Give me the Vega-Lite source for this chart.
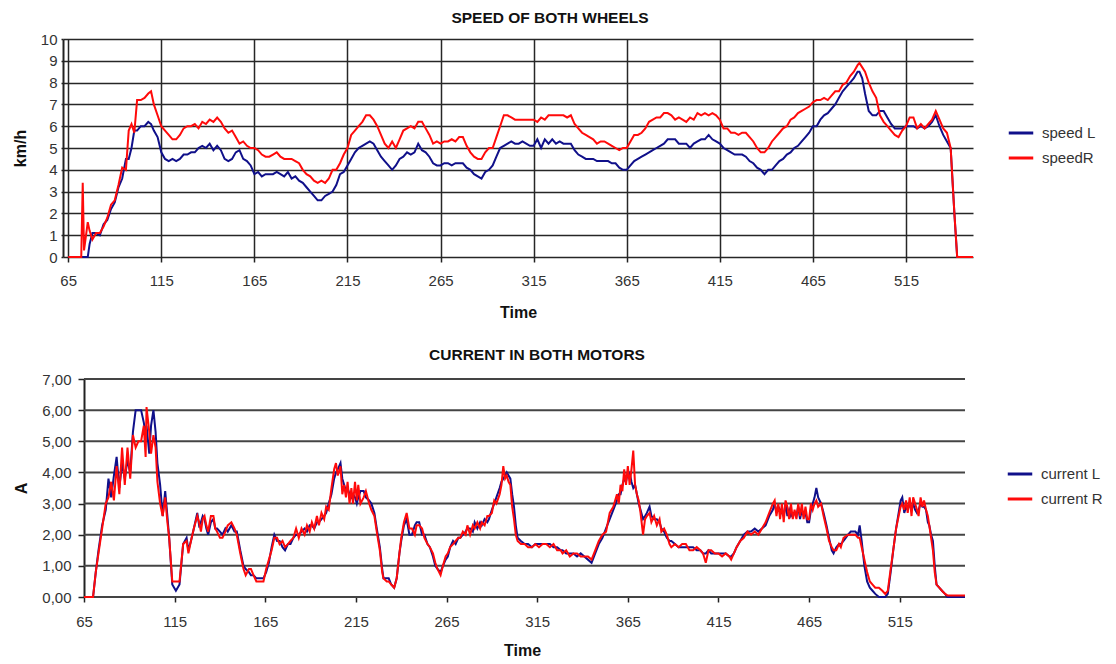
{
  "$schema": "https://vega.github.io/schema/vega-lite/v6.json",
  "padding": {"left": 12, "top": 10, "right": 0, "bottom": 0},
  "autosize": {"type": "pad"},
  "background": "white",
  "spacing": 27,
  "resolve": {"scale": {"color": "independent"}, "legend": {"color": "independent"}},
  "config": {
    "font": "Liberation Sans",
    "view": {"stroke": null},
    "axis": {"labelFont": "Liberation Sans", "labelFontSize": 15, "labelColor": "#333333", "titleFont": "Liberation Sans", "titleFontSize": 16, "titleFontWeight": "bold", "titleColor": "#111111", "domainColor": "#222222", "tickColor": "#222222", "gridColor": "#262626", "gridOpacity": 1},
    "legend": {"labelFont": "Liberation Sans", "labelFontSize": 15, "labelColor": "#333333", "symbolType": "stroke", "symbolStrokeWidth": 3, "symbolSize": 600, "rowPadding": 3, "labelOffset": 7},
    "title": {"font": "Liberation Sans", "fontSize": 15.5, "fontWeight": "bold", "color": "#111111"}
  },
  "datasets": {
    "speed": [
      {"t":65,"L":0,"R":0},{"t":70,"L":0,"R":0},{"t":72,"L":0,"R":0},{"t":72.8,"L":0,"R":3.4},{"t":73.5,"L":0,"R":0.3},{"t":75.5,"L":0,"R":1.6},{"t":76.5,"L":0.6,"R":1.2},{"t":78,"L":1.1,"R":0.8},{"t":80,"L":1.1,"R":1.1},{"t":82,"L":1.0,"R":1.1},{"t":84,"L":1.5,"R":1.4},{"t":86,"L":1.7,"R":1.8},{"t":88,"L":2.2,"R":2.4},{"t":90,"L":2.5,"R":2.6},{"t":92,"L":3.2,"R":3.3},{"t":94,"L":3.6,"R":4.1},{"t":96,"L":4.5,"R":4.0},{"t":97.5,"L":4.5,"R":5.8},{"t":99,"L":5.0,"R":6.1},{"t":100.5,"L":5.8,"R":5.7},{"t":102,"L":5.8,"R":7.2},{"t":104,"L":6.0,"R":7.2},{"t":106,"L":6.0,"R":7.3},{"t":108,"L":6.2,"R":7.5},{"t":109.5,"L":6.1,"R":7.6},{"t":111,"L":5.8,"R":7.0},{"t":113,"L":5.5,"R":6.5},{"t":115,"L":4.8,"R":6.0},{"t":117,"L":4.5,"R":5.8},{"t":119,"L":4.4,"R":5.6},{"t":121,"L":4.5,"R":5.4},{"t":123,"L":4.4,"R":5.4},{"t":125,"L":4.5,"R":5.6},{"t":127,"L":4.7,"R":5.9},{"t":129,"L":4.7,"R":6.0},{"t":131,"L":4.8,"R":6.0},{"t":133,"L":4.8,"R":6.1},{"t":135,"L":5.0,"R":5.9},{"t":137,"L":5.1,"R":6.2},{"t":139,"L":5.0,"R":6.1},{"t":141,"L":5.2,"R":6.3},{"t":143,"L":4.9,"R":6.2},{"t":145,"L":5.1,"R":6.4},{"t":147,"L":4.9,"R":6.2},{"t":149,"L":4.5,"R":5.9},{"t":151,"L":4.4,"R":5.7},{"t":153,"L":4.5,"R":5.8},{"t":155,"L":4.8,"R":5.5},{"t":157,"L":4.9,"R":5.2},{"t":159,"L":4.5,"R":5.3},{"t":161,"L":4.4,"R":5.1},{"t":163,"L":4.2,"R":5.0},{"t":165,"L":3.8,"R":5.0},{"t":167,"L":3.9,"R":4.9},{"t":169,"L":3.7,"R":4.7},{"t":171,"L":3.8,"R":4.6},{"t":173,"L":3.8,"R":4.6},{"t":175,"L":3.8,"R":4.7},{"t":177,"L":3.9,"R":4.8},{"t":179,"L":3.8,"R":4.6},{"t":181,"L":3.7,"R":4.5},{"t":183,"L":3.9,"R":4.5},{"t":185,"L":3.6,"R":4.5},{"t":187,"L":3.7,"R":4.4},{"t":189,"L":3.5,"R":4.3},{"t":191,"L":3.4,"R":4.0},{"t":193,"L":3.2,"R":3.8},{"t":195,"L":3.0,"R":3.7},{"t":197,"L":2.8,"R":3.5},{"t":199,"L":2.6,"R":3.4},{"t":201,"L":2.6,"R":3.5},{"t":203,"L":2.8,"R":3.4},{"t":205,"L":2.9,"R":3.6},{"t":207,"L":3.0,"R":4.0},{"t":209,"L":3.3,"R":4.0},{"t":211,"L":3.8,"R":4.3},{"t":213,"L":3.9,"R":4.7},{"t":215,"L":4.2,"R":5.0},{"t":217,"L":4.5,"R":5.6},{"t":219,"L":4.8,"R":5.8},{"t":221,"L":5.0,"R":6.0},{"t":223,"L":5.1,"R":6.2},{"t":225,"L":5.2,"R":6.5},{"t":227,"L":5.3,"R":6.5},{"t":229,"L":5.2,"R":6.3},{"t":231,"L":4.9,"R":6.0},{"t":233,"L":4.6,"R":5.6},{"t":235,"L":4.4,"R":5.2},{"t":237,"L":4.2,"R":5.0},{"t":239,"L":4.0,"R":5.3},{"t":241,"L":4.2,"R":5.0},{"t":243,"L":4.5,"R":5.4},{"t":245,"L":4.6,"R":5.8},{"t":247,"L":4.8,"R":5.9},{"t":249,"L":4.7,"R":6.0},{"t":251,"L":4.8,"R":5.9},{"t":253,"L":5.2,"R":6.2},{"t":255,"L":4.9,"R":6.2},{"t":257,"L":4.8,"R":5.9},{"t":259,"L":4.6,"R":5.6},{"t":261,"L":4.3,"R":5.2},{"t":263,"L":4.2,"R":5.3},{"t":265,"L":4.2,"R":5.2},{"t":267,"L":4.3,"R":5.3},{"t":269,"L":4.3,"R":5.3},{"t":271,"L":4.2,"R":5.4},{"t":273,"L":4.3,"R":5.3},{"t":275,"L":4.3,"R":5.5},{"t":277,"L":4.3,"R":5.5},{"t":279,"L":4.1,"R":5.1},{"t":281,"L":4.0,"R":4.8},{"t":283,"L":3.8,"R":4.6},{"t":285,"L":3.7,"R":4.5},{"t":287,"L":3.6,"R":4.5},{"t":289,"L":3.9,"R":4.8},{"t":291,"L":4.0,"R":5.0},{"t":293,"L":4.2,"R":5.0},{"t":295,"L":4.6,"R":5.5},{"t":297,"L":5.0,"R":6.0},{"t":299,"L":5.1,"R":6.5},{"t":301,"L":5.2,"R":6.5},{"t":303,"L":5.3,"R":6.4},{"t":305,"L":5.2,"R":6.3},{"t":307,"L":5.2,"R":6.3},{"t":309,"L":5.3,"R":6.3},{"t":311,"L":5.2,"R":6.3},{"t":313,"L":5.1,"R":6.3},{"t":315,"L":5.1,"R":6.3},{"t":317,"L":5.4,"R":6.2},{"t":319,"L":5.0,"R":6.4},{"t":321,"L":5.4,"R":6.3},{"t":323,"L":5.2,"R":6.5},{"t":325,"L":5.4,"R":6.5},{"t":327,"L":5.2,"R":6.5},{"t":329,"L":5.3,"R":6.5},{"t":331,"L":5.2,"R":6.5},{"t":333,"L":5.2,"R":6.4},{"t":335,"L":5.2,"R":6.5},{"t":337,"L":4.9,"R":6.1},{"t":339,"L":4.7,"R":5.9},{"t":341,"L":4.6,"R":5.7},{"t":343,"L":4.5,"R":5.6},{"t":345,"L":4.5,"R":5.5},{"t":347,"L":4.5,"R":5.4},{"t":349,"L":4.4,"R":5.2},{"t":351,"L":4.4,"R":5.3},{"t":353,"L":4.4,"R":5.3},{"t":355,"L":4.4,"R":5.2},{"t":357,"L":4.3,"R":5.1},{"t":359,"L":4.3,"R":5.0},{"t":361,"L":4.1,"R":4.9},{"t":363,"L":4.0,"R":5.0},{"t":365,"L":4.0,"R":5.0},{"t":367,"L":4.2,"R":5.3},{"t":369,"L":4.4,"R":5.6},{"t":371,"L":4.5,"R":5.6},{"t":373,"L":4.6,"R":5.7},{"t":375,"L":4.7,"R":5.9},{"t":377,"L":4.8,"R":6.2},{"t":379,"L":4.9,"R":6.3},{"t":381,"L":5.0,"R":6.4},{"t":383,"L":5.1,"R":6.4},{"t":385,"L":5.2,"R":6.6},{"t":387,"L":5.4,"R":6.6},{"t":389,"L":5.4,"R":6.5},{"t":391,"L":5.4,"R":6.3},{"t":393,"L":5.2,"R":6.4},{"t":395,"L":5.2,"R":6.3},{"t":397,"L":5.2,"R":6.2},{"t":399,"L":5.0,"R":6.4},{"t":401,"L":5.2,"R":6.3},{"t":403,"L":5.3,"R":6.6},{"t":405,"L":5.4,"R":6.5},{"t":407,"L":5.4,"R":6.6},{"t":409,"L":5.6,"R":6.5},{"t":411,"L":5.4,"R":6.6},{"t":413,"L":5.3,"R":6.5},{"t":415,"L":5.2,"R":6.3},{"t":417,"L":5.0,"R":5.9},{"t":419,"L":4.9,"R":5.9},{"t":421,"L":4.8,"R":5.7},{"t":423,"L":4.7,"R":5.7},{"t":425,"L":4.7,"R":5.6},{"t":427,"L":4.7,"R":5.7},{"t":429,"L":4.6,"R":5.7},{"t":431,"L":4.4,"R":5.5},{"t":433,"L":4.3,"R":5.3},{"t":435,"L":4.1,"R":5.0},{"t":437,"L":4.0,"R":4.8},{"t":439,"L":3.8,"R":4.8},{"t":441,"L":4.0,"R":5.0},{"t":443,"L":4.0,"R":5.3},{"t":445,"L":4.2,"R":5.5},{"t":447,"L":4.4,"R":5.7},{"t":449,"L":4.5,"R":5.9},{"t":451,"L":4.7,"R":6.0},{"t":453,"L":4.8,"R":6.3},{"t":455,"L":5.0,"R":6.4},{"t":457,"L":5.1,"R":6.6},{"t":459,"L":5.3,"R":6.7},{"t":461,"L":5.5,"R":6.8},{"t":463,"L":5.7,"R":6.9},{"t":465,"L":6.0,"R":7.1},{"t":467,"L":6.0,"R":7.2},{"t":469,"L":6.3,"R":7.2},{"t":471,"L":6.5,"R":7.3},{"t":473,"L":6.6,"R":7.2},{"t":475,"L":6.8,"R":7.4},{"t":477,"L":7.0,"R":7.6},{"t":479,"L":7.3,"R":7.6},{"t":481,"L":7.6,"R":7.9},{"t":483,"L":7.8,"R":8.0},{"t":485,"L":8.0,"R":8.3},{"t":487,"L":8.2,"R":8.5},{"t":489,"L":8.5,"R":8.8},{"t":490,"L":8.5,"R":8.9},{"t":491.5,"L":8.2,"R":8.7},{"t":493,"L":7.5,"R":8.5},{"t":495,"L":6.7,"R":8.0},{"t":497,"L":6.5,"R":7.6},{"t":499,"L":6.5,"R":7.3},{"t":501,"L":6.7,"R":6.5},{"t":503,"L":6.7,"R":6.2},{"t":505,"L":6.4,"R":6.0},{"t":507,"L":6.1,"R":5.8},{"t":509,"L":5.9,"R":5.6},{"t":511,"L":5.9,"R":5.5},{"t":513,"L":5.9,"R":5.8},{"t":515,"L":6.0,"R":6.0},{"t":517,"L":6.0,"R":6.4},{"t":519,"L":6.0,"R":6.4},{"t":521,"L":5.9,"R":5.9},{"t":523,"L":6.0,"R":6.1},{"t":525,"L":5.9,"R":5.9},{"t":527,"L":6.0,"R":6.1},{"t":529,"L":6.2,"R":6.3},{"t":531,"L":6.5,"R":6.7},{"t":533,"L":6.0,"R":6.3},{"t":535,"L":5.6,"R":5.9},{"t":537,"L":5.3,"R":5.7},{"t":539,"L":5.0,"R":5.0},{"t":541,"L":2.0,"R":2.0},{"t":542.5,"L":0,"R":0},{"t":551,"L":0,"R":0}
    ],
    "current": [
      {"t":65,"L":0,"R":0},{"t":70,"L":0,"R":0},{"t":71.5,"L":0.8,"R":0.8},{"t":73,"L":1.5,"R":1.4},{"t":75,"L":2.3,"R":2.2},{"t":77,"L":2.8,"R":3.0},{"t":78.5,"L":3.8,"R":3.2},{"t":80,"L":3.2,"R":3.7},{"t":81.5,"L":3.9,"R":3.1},{"t":83,"L":4.5,"R":4.2},{"t":84.5,"L":3.5,"R":3.3},{"t":86,"L":4.3,"R":4.8},{"t":87.5,"L":3.8,"R":3.6},{"t":89,"L":4.4,"R":4.8},{"t":90.5,"L":4.0,"R":3.8},{"t":92,"L":5.3,"R":5.2},{"t":93.5,"L":6.0,"R":4.8},{"t":95,"L":6.0,"R":5.0},{"t":96.5,"L":6.0,"R":5.0},{"t":98,"L":5.6,"R":5.5},{"t":99,"L":5.2,"R":4.5},{"t":99.5,"L":5.5,"R":6.1},{"t":101,"L":4.6,"R":5.3},{"t":102,"L":5.5,"R":4.6},{"t":103.3,"L":6.0,"R":5.2},{"t":104.5,"L":5.3,"R":4.8},{"t":105.5,"L":4.3,"R":3.7},{"t":107,"L":3.6,"R":3.0},{"t":108.4,"L":2.6,"R":2.6},{"t":109.8,"L":3.4,"R":3.2},{"t":111,"L":2.6,"R":2.4},{"t":112,"L":1.9,"R":1.9},{"t":113.7,"L":0.4,"R":0.5},{"t":115.7,"L":0.2,"R":0.5},{"t":117.7,"L":0.4,"R":0.5},{"t":119.7,"L":1.7,"R":1.7},{"t":121.6,"L":1.9,"R":1.8},{"t":122.6,"L":1.5,"R":1.4},{"t":124,"L":1.8,"R":1.8},{"t":125.6,"L":2.2,"R":2.2},{"t":127.5,"L":2.7,"R":2.6},{"t":128.5,"L":2.3,"R":2.4},{"t":129.5,"L":2.4,"R":2.1},{"t":130.5,"L":2.6,"R":2.5},{"t":131.5,"L":2.5,"R":2.6},{"t":132.5,"L":2.2,"R":2.3},{"t":133.5,"L":2.0,"R":2.1},{"t":135,"L":2.4,"R":2.6},{"t":136.4,"L":2.5,"R":2.6},{"t":137.4,"L":2.2,"R":2.2},{"t":138.4,"L":2.2,"R":2.1},{"t":140,"L":2.1,"R":1.9},{"t":141.4,"L":2.0,"R":1.9},{"t":143,"L":2.2,"R":2.1},{"t":144.3,"L":2.1,"R":2.3},{"t":146.3,"L":2.3,"R":2.4},{"t":148,"L":2.1,"R":2.2},{"t":149.3,"L":2.1,"R":2.0},{"t":151.2,"L":1.5,"R":1.4},{"t":153,"L":1.0,"R":0.9},{"t":154.2,"L":0.9,"R":0.7},{"t":156,"L":0.8,"R":0.9},{"t":157.1,"L":0.7,"R":0.9},{"t":158.5,"L":0.7,"R":0.7},{"t":160.1,"L":0.6,"R":0.5},{"t":162,"L":0.6,"R":0.5},{"t":164,"L":0.6,"R":0.5},{"t":165.5,"L":0.8,"R":0.9},{"t":167,"L":1.1,"R":1.2},{"t":168.5,"L":1.6,"R":1.5},{"t":170,"L":2.0,"R":1.9},{"t":171.5,"L":1.8,"R":1.9},{"t":172.9,"L":1.8,"R":1.7},{"t":174.5,"L":1.6,"R":1.8},{"t":175.9,"L":1.5,"R":1.6},{"t":177.5,"L":1.7,"R":1.7},{"t":178.9,"L":1.7,"R":1.8},{"t":180.5,"L":1.9,"R":1.9},{"t":182,"L":2.0,"R":2.2},{"t":183.5,"L":2.0,"R":1.9},{"t":185,"L":2.1,"R":2.2},{"t":186.7,"L":2.2,"R":2.0},{"t":188,"L":2.1,"R":2.3},{"t":189.5,"L":2.3,"R":2.1},{"t":190.7,"L":2.3,"R":2.4},{"t":192,"L":2.2,"R":2.2},{"t":193.5,"L":2.4,"R":2.6},{"t":194.6,"L":2.4,"R":2.3},{"t":196,"L":2.5,"R":2.7},{"t":197.5,"L":2.6,"R":2.5},{"t":198.6,"L":2.7,"R":2.9},{"t":200,"L":3.0,"R":2.8},{"t":201.5,"L":3.3,"R":3.5},{"t":203,"L":3.8,"R":4.1},{"t":204,"L":4.0,"R":4.3},{"t":205,"L":4.1,"R":3.9},{"t":206.5,"L":4.3,"R":4.2},{"t":207.5,"L":3.8,"R":3.3},{"t":208.5,"L":3.6,"R":3.6},{"t":209.5,"L":3.4,"R":3.2},{"t":210.4,"L":3.5,"R":3.7},{"t":211.5,"L":3.3,"R":3.0},{"t":212.5,"L":3.2,"R":3.5},{"t":213.4,"L":3.3,"R":3.0},{"t":214.5,"L":3.2,"R":3.7},{"t":215.5,"L":3.0,"R":3.1},{"t":216.3,"L":3.2,"R":3.6},{"t":217.5,"L":3.4,"R":3.0},{"t":219.3,"L":3.4,"R":3.2},{"t":220.5,"L":3.2,"R":3.4},{"t":222.3,"L":3.1,"R":3.0},{"t":223.5,"L":3.0,"R":2.8},{"t":225.2,"L":2.7,"R":2.6},{"t":226.5,"L":2.2,"R":2.1},{"t":228.2,"L":1.6,"R":1.5},{"t":229.5,"L":0.9,"R":0.8},{"t":230.2,"L":0.6,"R":0.6},{"t":232,"L":0.6,"R":0.5},{"t":233.1,"L":0.6,"R":0.5},{"t":234.5,"L":0.4,"R":0.4},{"t":236.1,"L":0.3,"R":0.3},{"t":237.5,"L":0.6,"R":0.6},{"t":239,"L":1.4,"R":1.4},{"t":240,"L":1.8,"R":1.9},{"t":241.5,"L":2.3,"R":2.4},{"t":243,"L":2.5,"R":2.7},{"t":244.5,"L":2.0,"R":2.2},{"t":245.9,"L":2.0,"R":2.2},{"t":247.5,"L":2.3,"R":2.0},{"t":248.5,"L":2.4,"R":2.3},{"t":249.9,"L":2.4,"R":2.3},{"t":251.5,"L":2.0,"R":2.2},{"t":252.8,"L":2.0,"R":1.9},{"t":254.5,"L":1.7,"R":1.7},{"t":255.8,"L":1.6,"R":1.6},{"t":257.5,"L":1.3,"R":1.4},{"t":258.8,"L":1.0,"R":1.1},{"t":260,"L":0.9,"R":0.9},{"t":261.7,"L":0.8,"R":0.7},{"t":263,"L":1.0,"R":1.0},{"t":264.5,"L":1.2,"R":1.3},{"t":265.7,"L":1.3,"R":1.4},{"t":267,"L":1.6,"R":1.6},{"t":268.6,"L":1.8,"R":1.7},{"t":270,"L":1.7,"R":1.8},{"t":271.5,"L":1.9,"R":1.9},{"t":272.6,"L":1.9,"R":1.9},{"t":274,"L":2.0,"R":2.1},{"t":275.5,"L":2.1,"R":2.0},{"t":276.5,"L":2.2,"R":2.3},{"t":278,"L":2.2,"R":2.0},{"t":279.5,"L":2.1,"R":2.3},{"t":280.5,"L":2.4,"R":2.2},{"t":282,"L":2.2,"R":2.4},{"t":283.5,"L":2.4,"R":2.2},{"t":284.4,"L":2.3,"R":2.4},{"t":286,"L":2.5,"R":2.3},{"t":287.5,"L":2.4,"R":2.6},{"t":288.4,"L":2.5,"R":2.6},{"t":290,"L":2.8,"R":2.7},{"t":291.3,"L":3.0,"R":3.1},{"t":292.5,"L":3.2,"R":3.0},{"t":294.3,"L":3.5,"R":3.3},{"t":295.3,"L":3.7,"R":3.6},{"t":296.3,"L":3.8,"R":4.2},{"t":297.3,"L":3.9,"R":3.8},{"t":298.2,"L":4.0,"R":3.9},{"t":299.2,"L":3.9,"R":3.7},{"t":300.2,"L":3.8,"R":3.6},{"t":301.2,"L":3.3,"R":2.9},{"t":302.2,"L":2.9,"R":2.5},{"t":303.2,"L":2.3,"R":2.0},{"t":304.2,"L":1.9,"R":1.8},{"t":306,"L":1.8,"R":1.7},{"t":308.1,"L":1.7,"R":1.7},{"t":310,"L":1.7,"R":1.6},{"t":312.1,"L":1.6,"R":1.6},{"t":314,"L":1.7,"R":1.7},{"t":316,"L":1.7,"R":1.6},{"t":318,"L":1.7,"R":1.7},{"t":320,"L":1.7,"R":1.7},{"t":322,"L":1.7,"R":1.6},{"t":324,"L":1.6,"R":1.7},{"t":326,"L":1.6,"R":1.5},{"t":328,"L":1.5,"R":1.5},{"t":329,"L":1.5,"R":1.4},{"t":331,"L":1.4,"R":1.5},{"t":333,"L":1.4,"R":1.3},{"t":335,"L":1.4,"R":1.4},{"t":337,"L":1.3,"R":1.4},{"t":339,"L":1.4,"R":1.3},{"t":341,"L":1.3,"R":1.3},{"t":343,"L":1.2,"R":1.3},{"t":345,"L":1.1,"R":1.2},{"t":347,"L":1.4,"R":1.5},{"t":349,"L":1.7,"R":1.8},{"t":351,"L":1.9,"R":2.0},{"t":353,"L":2.2,"R":2.1},{"t":355,"L":2.5,"R":2.7},{"t":357,"L":2.8,"R":2.9},{"t":359,"L":3.1,"R":3.3},{"t":360,"L":3.3,"R":3.0},{"t":361,"L":3.3,"R":3.6},{"t":362,"L":3.6,"R":3.4},{"t":363,"L":3.8,"R":4.1},{"t":364,"L":3.7,"R":3.6},{"t":365,"L":4.0,"R":4.2},{"t":366,"L":4.0,"R":3.6},{"t":367,"L":3.7,"R":4.1},{"t":368,"L":3.5,"R":4.7},{"t":369,"L":3.6,"R":3.6},{"t":370,"L":3.3,"R":3.3},{"t":371,"L":3.0,"R":3.1},{"t":372,"L":2.8,"R":2.7},{"t":373.4,"L":2.5,"R":2.0},{"t":374.5,"L":2.6,"R":2.5},{"t":375.5,"L":2.7,"R":2.6},{"t":377,"L":2.9,"R":2.7},{"t":378,"L":2.6,"R":2.4},{"t":379.5,"L":2.5,"R":2.6},{"t":381,"L":2.5,"R":2.3},{"t":382.5,"L":2.4,"R":2.5},{"t":383.5,"L":2.2,"R":2.1},{"t":385,"L":2.1,"R":2.2},{"t":386.5,"L":1.9,"R":2.0},{"t":388,"L":1.8,"R":1.7},{"t":389,"L":1.8,"R":1.6},{"t":391,"L":1.7,"R":1.7},{"t":393,"L":1.6,"R":1.6},{"t":395,"L":1.6,"R":1.7},{"t":397,"L":1.6,"R":1.7},{"t":399,"L":1.6,"R":1.5},{"t":401,"L":1.6,"R":1.5},{"t":403,"L":1.5,"R":1.6},{"t":405,"L":1.5,"R":1.5},{"t":406.5,"L":1.4,"R":1.4},{"t":408,"L":1.4,"R":1.1},{"t":409.5,"L":1.5,"R":1.5},{"t":411,"L":1.4,"R":1.5},{"t":413,"L":1.4,"R":1.4},{"t":415,"L":1.4,"R":1.4},{"t":417,"L":1.4,"R":1.3},{"t":419,"L":1.4,"R":1.4},{"t":421,"L":1.3,"R":1.3},{"t":422,"L":1.3,"R":1.2},{"t":423.5,"L":1.4,"R":1.4},{"t":425,"L":1.6,"R":1.6},{"t":427,"L":1.8,"R":1.8},{"t":429,"L":2.0,"R":1.9},{"t":431,"L":2.1,"R":2.1},{"t":433,"L":2.1,"R":2.0},{"t":435,"L":2.2,"R":2.1},{"t":437,"L":2.1,"R":2.0},{"t":439,"L":2.2,"R":2.2},{"t":441,"L":2.3,"R":2.4},{"t":443,"L":2.6,"R":2.7},{"t":445,"L":2.8,"R":3.0},{"t":446,"L":3.0,"R":3.1},{"t":447,"L":2.7,"R":2.6},{"t":448,"L":2.9,"R":3.0},{"t":449,"L":2.8,"R":2.5},{"t":450,"L":2.7,"R":3.0},{"t":451,"L":2.6,"R":2.4},{"t":452,"L":3.0,"R":3.1},{"t":453,"L":2.6,"R":2.9},{"t":454,"L":2.8,"R":2.5},{"t":455,"L":2.6,"R":3.0},{"t":456,"L":2.7,"R":2.5},{"t":457,"L":2.7,"R":2.8},{"t":458,"L":2.6,"R":2.5},{"t":459,"L":2.9,"R":3.0},{"t":460,"L":2.5,"R":2.6},{"t":461,"L":2.8,"R":3.0},{"t":462,"L":2.6,"R":2.5},{"t":463,"L":2.7,"R":2.9},{"t":464,"L":2.4,"R":2.5},{"t":465,"L":2.4,"R":2.5},{"t":466,"L":2.8,"R":3.0},{"t":467,"L":3.0,"R":2.8},{"t":468,"L":3.2,"R":3.0},{"t":469,"L":3.5,"R":3.1},{"t":470,"L":3.2,"R":2.9},{"t":471.6,"L":3.0,"R":3.0},{"t":473,"L":2.7,"R":2.6},{"t":474.6,"L":2.3,"R":2.2},{"t":476,"L":1.9,"R":1.8},{"t":477.5,"L":1.5,"R":1.6},{"t":478.5,"L":1.4,"R":1.5},{"t":480,"L":1.6,"R":1.5},{"t":481.5,"L":1.7,"R":1.7},{"t":482.5,"L":1.7,"R":1.6},{"t":484,"L":1.8,"R":1.9},{"t":486.5,"L":2.0,"R":2.0},{"t":488,"L":2.1,"R":2.0},{"t":490.5,"L":2.1,"R":2.0},{"t":492,"L":2.0,"R":1.9},{"t":492.9,"L":2.3,"R":1.9},{"t":494,"L":1.8,"R":1.6},{"t":495.5,"L":1.0,"R":1.2},{"t":497,"L":0.5,"R":0.8},{"t":498.5,"L":0.3,"R":0.5},{"t":500,"L":0.2,"R":0.4},{"t":501.5,"L":0.1,"R":0.3},{"t":503.5,"L":0.0,"R":0.3},{"t":505.4,"L":0.0,"R":0.2},{"t":507,"L":0.0,"R":0.1},{"t":508.4,"L":0.1,"R":0.2},{"t":510,"L":0.8,"R":0.9},{"t":511.4,"L":1.5,"R":1.5},{"t":513,"L":2.2,"R":2.2},{"t":514.4,"L":2.7,"R":2.6},{"t":515.5,"L":3.1,"R":2.9},{"t":516.4,"L":3.2,"R":3.0},{"t":517.5,"L":2.7,"R":2.8},{"t":518.5,"L":2.9,"R":3.1},{"t":519.4,"L":2.8,"R":2.7},{"t":520.5,"L":3.0,"R":3.2},{"t":521.5,"L":2.8,"R":2.6},{"t":522.4,"L":3.0,"R":3.2},{"t":523.5,"L":2.8,"R":3.0},{"t":524.5,"L":2.7,"R":2.8},{"t":525.4,"L":2.8,"R":2.6},{"t":526.5,"L":3.0,"R":3.2},{"t":527.5,"L":2.9,"R":2.9},{"t":528.4,"L":2.9,"R":3.1},{"t":529.5,"L":2.8,"R":2.8},{"t":530.5,"L":2.4,"R":2.6},{"t":531.3,"L":2.3,"R":2.3},{"t":532.3,"L":2.0,"R":1.9},{"t":533.3,"L":1.8,"R":1.5},{"t":534.3,"L":1.0,"R":0.8},{"t":535.3,"L":0.4,"R":0.4},{"t":536.8,"L":0.3,"R":0.3},{"t":538.3,"L":0.2,"R":0.2},{"t":540,"L":0.1,"R":0.1},{"t":541.3,"L":0.0,"R":0.05},{"t":543,"L":0.0,"R":0.05},{"t":551,"L":0.0,"R":0.05}
    ],
    "agrid": [{"g":0},{"g":1},{"g":2},{"g":3},{"g":4},{"g":5},{"g":6},{"g":7}]
  },
  "vconcat": [
    {
      "width": 910,
      "height": 218,
      "title": {"text": "SPEED OF BOTH WHEELS", "anchor": "middle", "frame": "group", "offset": 6, "dx": 32},
      "data": {"name": "speed"},
      "transform": [{"fold": ["L", "R"], "as": ["series", "v"]}],
      "mark": {"type": "line", "strokeWidth": 2},
      "encoding": {
        "x": {"field": "t", "type": "quantitative", "scale": {"domain": [62.2, 551], "nice": false, "zero": false},
              "axis": {"values": [65, 115, 165, 215, 265, 315, 365, 415, 465, 515], "title": "Time", "grid": true, "gridWidth": 1.5, "tickSize": 5, "tickWidth": 1.5, "domain": false, "labelPadding": 11, "titlePadding": 16, "labelFlush": false}},
        "y": {"field": "v", "type": "quantitative", "scale": {"domain": [0, 10], "nice": false},
              "axis": {"values": [0, 1, 2, 3, 4, 5, 6, 7, 8, 9, 10], "title": "km/h", "grid": true, "gridWidth": 1.5, "domainWidth": 2, "tickSize": 2, "tickWidth": 1.5, "labelPadding": 4, "titlePadding": 12}},
        "color": {"field": "series", "type": "nominal", "scale": {"domain": ["L", "R"], "range": ["#10108a", "#ff0a0a"]},
                  "legend": {"title": null, "orient": "none", "legendX": 944, "legendY": 80, "labelExpr": "datum.label == 'L' ? 'speed L' : 'speedR'"}}
      }
    },
    {
      "width": 902,
      "height": 218,
      "title": {"text": "CURRENT IN BOTH MOTORS", "anchor": "middle", "frame": "group", "offset": 9, "dx": 23},
      "layer": [
        {
          "data": {"name": "agrid"},
          "mark": {"type": "rule", "color": "#444444", "strokeWidth": 2},
          "encoding": {
            "y": {"field": "g", "type": "quantitative", "scale": {"domain": [0, 7], "nice": false},
                  "axis": {"values": [0, 1, 2, 3, 4, 5, 6, 7], "labelExpr": "replace(format(datum.value, '.2f'), '.', ',')", "title": "A", "grid": false, "offset": -21, "domainWidth": 2, "tickSize": 6, "tickWidth": 1.5, "labelPadding": 7, "titlePadding": 12, "labelOverlap": false}},
            "x": {"datum": 65},
            "x2": {"datum": 551}
          }
        },
        {
          "data": {"name": "current"},
          "transform": [{"fold": ["L", "R"], "as": ["series", "v"]}],
          "mark": {"type": "line", "strokeWidth": 2},
          "encoding": {
            "x": {"field": "t", "type": "quantitative", "scale": {"domain": [53.42, 551], "nice": false, "zero": false},
                  "axis": {"values": [65, 115, 165, 215, 265, 315, 365, 415, 465, 515], "title": "Time", "titleX": 459, "grid": false, "tickSize": 5, "tickWidth": 1.5, "domain": false, "labelPadding": 12, "titlePadding": 13, "labelFlush": false}},
            "y": {"field": "v", "type": "quantitative", "scale": {"domain": [0, 7], "nice": false},
                  "axis": {"values": [0, 1, 2, 3, 4, 5, 6, 7], "labelExpr": "replace(format(datum.value, '.2f'), '.', ',')", "title": "A", "grid": false, "offset": -21, "domainWidth": 2, "tickSize": 6, "tickWidth": 1.5, "labelPadding": 7, "titlePadding": 12, "labelOverlap": false}},
            "color": {"field": "series", "type": "nominal", "scale": {"domain": ["L", "R"], "range": ["#10108a", "#ff0a0a"]},
                      "legend": {"title": null, "orient": "none", "legendX": 943, "legendY": 81, "labelExpr": "datum.label == 'L' ? 'current L' : 'current R'"}}
          }
        }
      ]
    }
  ]
}
